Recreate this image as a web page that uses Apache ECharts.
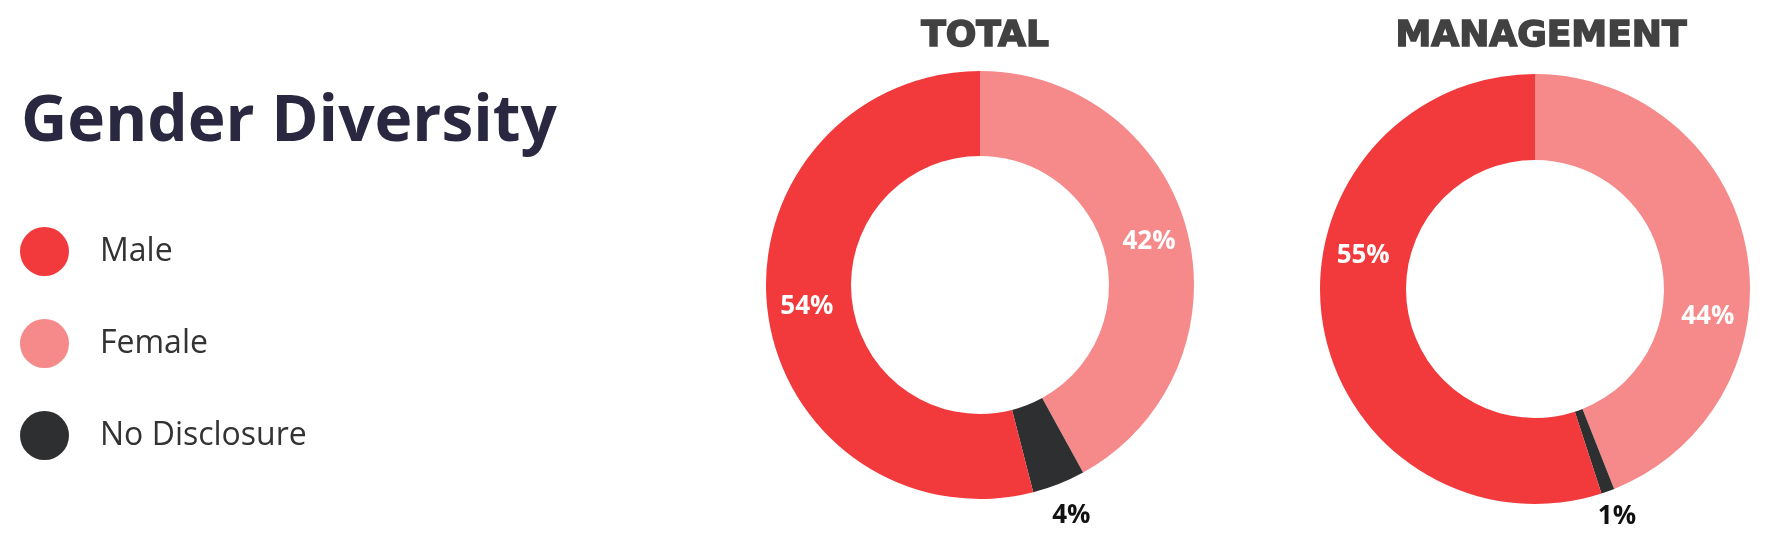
<!DOCTYPE html>
<html>
<head>
<meta charset="utf-8">
<script src="https://cdn.jsdelivr.net/npm/echarts@6/dist/echarts.min.js"></script>
<style>
html,body{margin:0;padding:0;background:#fff;}
#chart{width:1776px;height:544px;}
</style>
</head>
<body>
<div id="chart"></div>
<script>
// ---- data ----
const categories = ['Female', 'No Disclosure', 'Male']; // clockwise from 12 o'clock
const legendOrder = ['Male', 'Female', 'No Disclosure'];
const totalValues = [42, 4, 54];
const managementValues = [44, 1, 55];
const chartTitles = ['TOTAL', 'MANAGEMENT'];
const mainTitle = 'Gender Diversity';

const colors = { 'Male': '#f2393b', 'Female': '#f68989', 'No Disclosure': '#2e2f31' };

function items(values, labelFor) {
  return categories.map((name, i) => {
    const o = { name: name, value: values[i], itemStyle: { color: colors[name] } };
    o.label = { show: labelFor(name) };
    return o;
  });
}

const labelFont = { fontFamily: 'Open Sans', fontWeight: 'bold', fontSize: 26 };

function donut(center, r0, r1, values, mfStart, ndR0, ndR1) {
  const out = [];
  // visible ring
  out.push({
    type: 'pie', center: center, radius: [r0, r1], startAngle: 90, clockwise: true,
    silent: true, avoidLabelOverlap: false, animation: false,
    label: Object.assign({ position: 'inside', color: '#fff', formatter: '{c}%' }, labelFont),
    labelLine: { show: false },
    emphasis: { disabled: true },
    data: items(values, n => mfStart === 90 && n !== 'No Disclosure')
  });
  if (mfStart !== 90) {
    out.push({
      type: 'pie', center: center, radius: [r0, r1], startAngle: mfStart, clockwise: true,
      silent: true, avoidLabelOverlap: false, animation: false,
      itemStyle: { color: 'transparent' },
      label: Object.assign({ position: 'inside', color: '#fff', formatter: '{c}%' }, labelFont),
      labelLine: { show: false },
      emphasis: { disabled: true },
      data: categories.map((name, i) => ({ name: name, value: values[i], itemStyle: { color: 'transparent' }, label: { show: name !== 'No Disclosure' } }))
    });
  }
  // outer label ring for small slice
  out.push({
    type: 'pie', center: center, radius: [ndR0, ndR1], startAngle: 90, clockwise: true,
    silent: true, avoidLabelOverlap: false, animation: false,
    itemStyle: { color: 'transparent' },
    label: Object.assign({ position: 'inside', color: '#111', formatter: '{c}%' }, labelFont),
    labelLine: { show: false },
    emphasis: { disabled: true },
    data: categories.map((name, i) => ({ name: name, value: values[i], itemStyle: { color: 'transparent' }, label: { show: name === 'No Disclosure' } }))
  });
  return out;
}

const headStyle = { fontFamily: 'DejaVu Sans', fontWeight: 'bold', fontSize: 36, color: '#414141',
  textBorderColor: '#414141', textBorderWidth: 1.6 };

const chart = echarts.init(document.getElementById('chart'), null, { renderer: 'canvas' });
chart.setOption({
  backgroundColor: '#fff',
  animation: false,
  title: [
    { text: mainTitle, left: 16, top: 86,
      textStyle: { fontFamily: 'Open Sans', fontWeight: 'bold', fontSize: 64, color: '#292840' } },
    { text: chartTitles[0], left: 980, top: 14, textAlign: 'center', textStyle: headStyle },
    { text: chartTitles[1], left: 1536, top: 14, textAlign: 'center', textStyle: headStyle }
  ],
  legend: {
    data: legendOrder,
    orient: 'vertical', left: 15, top: 222,
    icon: 'circle', itemWidth: 49, itemHeight: 49, itemGap: 43,
    selectedMode: false,
    textStyle: { fontFamily: 'Open Sans', fontSize: 32, color: '#333', padding: [0, 0, 0, 26] }
  },
  series: [].concat(
    donut([980, 285], 129, 214, totalValues, 90, 234, 256),
    donut([1535, 289], 129, 215, managementValues, 70, 228, 250)
  )
});
</script>
</body>
</html>
